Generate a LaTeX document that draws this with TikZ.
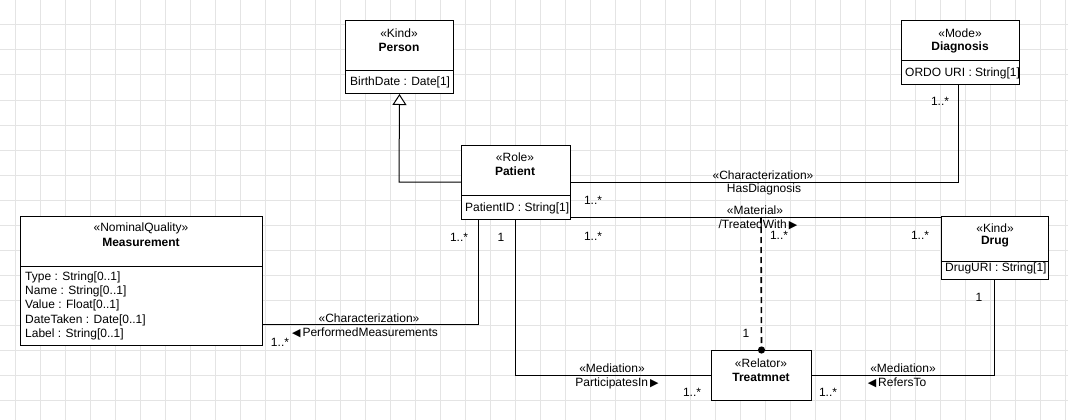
\documentclass[tikz,border=0pt]{standalone}
\usepackage{fontspec}
\setmainfont{Liberation Sans}
\newfontfamily\symf{DejaVu Sans}
\usetikzlibrary{arrows.meta}
\definecolor{gridc}{RGB}{228,228,228}
\newcommand{\fs}{\fontsize{12}{14}\selectfont}
\newcommand{\rtri}{{\symf\fontsize{11}{12}\selectfont ▶}}
\newcommand{\ltri}{{\symf\fontsize{11}{12}\selectfont ◀}}
\tikzset{
  umlbox/.style={draw=black, line width=1pt, fill=white, rectangle, inner sep=0pt, anchor=north west},
  lbl/.style={inner sep=0pt, font=\fs},
  attr/.style={inner sep=0pt, font=\fs, anchor=west},
  cname/.style={inner sep=0pt, font=\fs\bfseries},
  conn/.style={draw=black, line width=1pt},
  deriv/.style={draw=black, line width=1.6pt, dash pattern=on 6pt off 4pt},
  gen/.style={conn, -{Triangle[open, length=11pt, width=14pt, fill=white]}},
}
\begin{document}
\begin{tikzpicture}[x=1pt, y=-1pt]
\useasboundingbox (0,0) rectangle (1068,420);
\fill[white] (0,0) rectangle (1068,420);
\foreach \gx in {15,40,...,1065} \draw[gridc, line width=1pt] (\gx,0) -- (\gx,420);
\foreach \gy in {25,50,...,400} \draw[gridc, line width=1pt] (0,\gy) -- (1068,\gy);

% Person
\node[umlbox, minimum width=108pt, minimum height=73pt] (person) at (345,20) {};
\draw[conn] (person.west |- 0,71) -- (person.east |- 0,71);
\node[lbl] (personst) at (399,33) {«Kind»};
\node[cname] (personnm) at (399,47) {Person};
\node[attr] (personat) at (350,82) {BirthDate : Date[1]};

% Diagnosis
\node[umlbox, minimum width=118pt, minimum height=64pt] (diag) at (901,20) {};
\draw[conn] (diag.west |- 0,61) -- (diag.east |- 0,61);
\node[lbl] (diagst) at (960,33) {«Mode»};
\node[cname] (diagnm) at (960,47) {Diagnosis};
\node[attr] (diagat) at (905,73) {ORDO URI : String[1]};

% Patient
\node[umlbox, minimum width=109pt, minimum height=74pt] (patient) at (461,145) {};
\draw[conn] (patient.west |- 0,195) -- (patient.east |- 0,195);
\node[lbl] (patientst) at (515,157) {«Role»};
\node[cname] (patientnm) at (515,171) {Patient};
\node[attr] (patientat) at (465,208) {PatientID : String[1]};

% Measurement
\node[umlbox, minimum width=242pt, minimum height=129pt] (meas) at (20,216) {};
\draw[conn] (meas.west |- 0,266) -- (meas.east |- 0,266);
\node[lbl] (measst) at (141,228) {«NominalQuality»};
\node[cname] (measnm) at (141,242) {Measurement};
\node[attr] (measa1) at (25,277) {Type : String[0..1]};
\node[attr] (measa2) at (25,291.5) {Name : String[0..1]};
\node[attr] (measa3) at (25,305.5) {Value : Float[0..1]};
\node[attr] (measa4) at (25,320) {DateTaken : Date[0..1]};
\node[attr] (measa5) at (25,334) {Label : String[0..1]};

% Drug
\node[umlbox, minimum width=107pt, minimum height=63pt] (drug) at (941,216) {};
\draw[conn] (drug.west |- 0,261) -- (drug.east |- 0,261);
\node[lbl] (drugst) at (995,228) {«Kind»};
\node[cname] (drugnm) at (995,242) {Drug};
\node[attr] (drugat) at (945,268) {DrugURI : String[1]};

% Treatmnet
\node[umlbox, minimum width=100pt, minimum height=50pt] (treat) at (711,350) {};
\node[lbl] (treatst) at (761,363) {«Relator»};
\node[cname] (treatnm) at (761,377) {Treatmnet};

% Generalization Patient -> Person
\coordinate (genbend) at (399,182);
\draw[gen] (patient.west |- genbend) -- (genbend) -- (person.south);

% HasDiagnosis
\coordinate (hdbend) at (958,182);
\draw[conn] (patient.east |- hdbend) -- (hdbend) -- (hdbend |- diag.south);
\node[lbl] (hdst) at (763,175) {«Characterization»};
\node[lbl] (hdnm) at (764,189.5) {HasDiagnosis};
\node[lbl] (hdm1) at (593,200) {1..*};
\node[lbl] (hdm2) at (940,101) {1..*};

% TreatedWith
\coordinate (twy) at (0,217);
\draw[conn] (patient.east |- twy) -- (drug.west |- twy);
\node[lbl] (twst) at (755,210) {«Material»};
\node[lbl] (twnm) at (758,225) {/TreatedWith\,\rtri};
\node[lbl] (twm1) at (593,236) {1..*};
\node[lbl] (twm2) at (920,235) {1..*};

% Derivation
\coordinate (dvtop) at (761,217);
\draw[deriv] (dvtop) -- (treat.north);
\fill[black] (treat.north) circle (3.6pt);
\node[lbl] (dvm1) at (779,235) {1..*};
\node[lbl] (dvm2) at (746,333) {1};

% PerformedMeasurements
\coordinate (pmbend) at (478,324);
\draw[conn] (pmbend |- patient.south) -- (pmbend) -- (meas.east |- pmbend);
\node[lbl] (pmst) at (369,318) {«Characterization»};
\node[lbl] (pmnm) at (365,332.5) {\ltri\,PerformedMeasurements};
\node[lbl] (pmm1) at (280,342) {1..*};
\node[lbl] (pmm2) at (459,237) {1..*};

% ParticipatesIn
\coordinate (pibend) at (515,375);
\draw[conn] (pibend |- patient.south) -- (pibend) -- (treat.west |- pibend);
\node[lbl] (pist) at (612,368) {«Mediation»};
\node[lbl] (pinm) at (617,383) {ParticipatesIn\,\rtri};
\node[lbl] (pim1) at (501,237) {1};
\node[lbl] (pim2) at (692,392) {1..*};

% RefersTo
\coordinate (rtbend) at (994,375);
\draw[conn] (treat.east |- rtbend) -- (rtbend) -- (rtbend |- drug.south);
\node[lbl] (rtst) at (903,368) {«Mediation»};
\node[lbl] (rtnm) at (897,383) {\ltri\,RefersTo};
\node[lbl] (rtm1) at (828,392) {1..*};
\node[lbl] (rtm2) at (979,297) {1};
\end{tikzpicture}
\end{document}
